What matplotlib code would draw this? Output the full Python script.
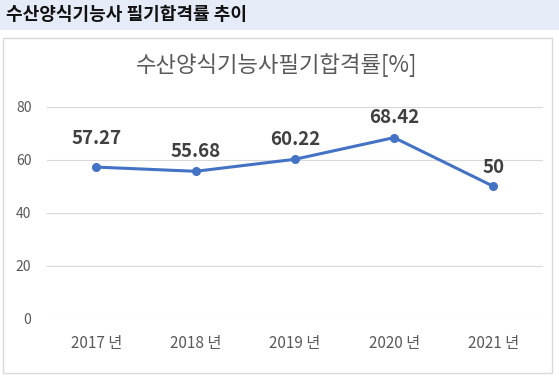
import matplotlib.pyplot as plt
from matplotlib.patches import Rectangle

plt.rcParams['font.family'] = ['Noto Sans CJK KR', 'DejaVu Sans']

# === DATA ===
years = ['2017 년', '2018 년', '2019 년', '2020 년', '2021 년']
pass_rate = [57.27, 55.68, 60.22, 68.42, 50]
value_labels = ['57.27', '55.68', '60.22', '68.42', '50']
y_ticks = [0, 20, 40, 60, 80]

# label lift above each marker, in pixels
label_dy = [29, 20, 20, 20, 19]

W, H = 559, 380
fig = plt.figure(figsize=(W / 100, H / 100), dpi=100)
fig.patch.set_facecolor('white')

# header band
fig.patches.append(Rectangle((0, 1 - 30 / H), 1, 30 / H, transform=fig.transFigure,
                             facecolor='#E6ECF7', edgecolor='none', zorder=-2))
fig.text(6 / W, 1 - 14 / H, '수산양식기능사 필기합격률 추이', fontsize=13,
         fontweight='bold', color='#111111', ha='left', va='center')

# chart box
fig.patches.append(Rectangle((3 / W, 1 - 373 / H), 549 / W, 335 / H,
                             transform=fig.transFigure, facecolor='white',
                             edgecolor='#D9D9D9', linewidth=1, zorder=-2))

fig.text(277 / W, 1 - 65 / H, '수산양식기능사필기합격률[%]', fontsize=16,
         color='#595959', ha='center', va='center', fontweight='light')

# plot area in pixels
x0, x1, ytop, ybot = 46.7, 543, 107, 318.5
ax = fig.add_axes([x0 / W, 1 - ybot / H, (x1 - x0) / W, (ybot - ytop) / H])
ax.set_facecolor('none')
ax.set_zorder(1)

xs = list(range(len(years)))
ax.plot(xs, pass_rate, color='#4472C4', linewidth=2.2, marker='o',
        markersize=5.5, zorder=3, solid_capstyle='round')

for x, v, lab, dy in zip(xs, pass_rate, value_labels, label_dy):
    ax.annotate(lab, (x, v), xytext=(0, dy * 0.72), textcoords='offset points',
                ha='center', va='center', fontsize=13.5, fontweight='bold',
                color='#404040')

ax.set_xlim(-0.5, len(years) - 0.5)
ax.set_ylim(0, 80)
ax.set_yticks(y_ticks)
ax.set_xticks(xs)
ax.set_xticklabels(years, fontsize=11, color='#595959')
ax.set_yticklabels([str(t) for t in y_ticks], fontsize=10, color='#595959')
ax.tick_params(length=0)
ax.tick_params(axis='y', pad=11)
ax.tick_params(axis='x', pad=12)
ax.grid(axis='y', color='#D9D9D9', linewidth=0.8)
ax.set_axisbelow(True)
for s in ax.spines.values():
    s.set_visible(False)

fig.savefig('out.png', dpi=100)
